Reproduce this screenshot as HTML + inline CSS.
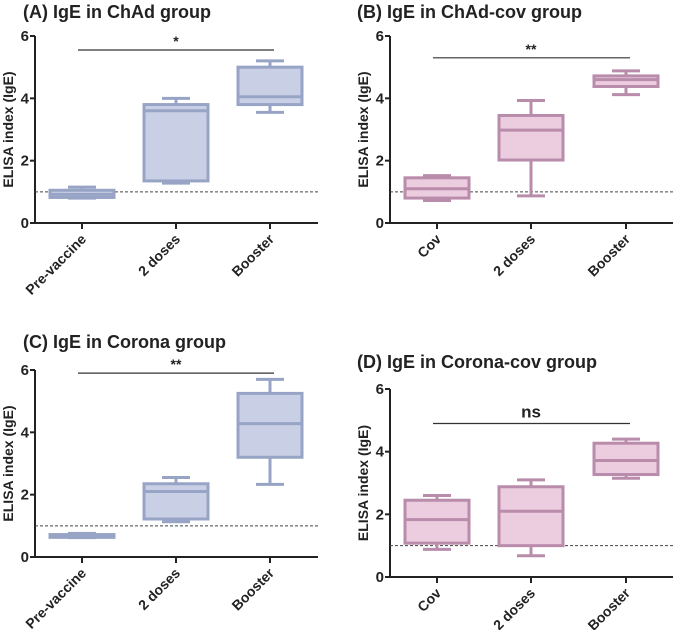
<!DOCTYPE html>
<html><head><meta charset="utf-8"><style>
body{margin:0;background:#fff;}
svg text{font-family:"Liberation Sans",Arial,sans-serif;font-weight:bold;fill:#222;}
</style></head><body>
<svg id="fig" width="685" height="630" xmlns="http://www.w3.org/2000/svg"></svg>
<script>
const catsA = ["Pre-vaccine","2 doses","Booster"];
const catsB = ["Cov","2 doses","Booster"];
// [min, q1, median, q3, max]
const boxesA = [[0.8,0.82,0.92,1.05,1.15],[1.28,1.35,3.6,3.8,4.0],[3.55,3.8,4.05,5.0,5.2]];
const boxesB = [[0.72,0.8,1.1,1.45,1.52],[0.87,2.02,2.98,3.45,3.93],[4.12,4.38,4.6,4.72,4.88]];
const boxesC = [[0.62,0.63,0.67,0.72,0.76],[1.13,1.22,2.1,2.35,2.55],[2.33,3.2,4.28,5.25,5.7]];
const boxesD = [[0.88,1.08,1.83,2.45,2.6],[0.68,1.0,2.1,2.88,3.1],[3.15,3.27,3.72,4.27,4.4]];
const sigA = 5.55, sigB = 5.3, sigC = 5.9, sigD = 4.9;
const sigLabels = ["*","**","**","ns"];
const yTicks = [0,2,4,6];
const refLine = 1;

const svg = document.getElementById('fig');
const NS = "http://www.w3.org/2000/svg";
function mk(tag, attrs, parent){const e=document.createElementNS(NS,tag);for(const k in attrs)e.setAttribute(k,attrs[k]);(parent||svg).appendChild(e);return e;}

const panels = [
 {id:"a",title:"(A) IgE in ChAd group",tx:23,ty:18,ax:35,y0:223,y6:36,xr:318,centers:[82,176,270],cats:catsA,boxes:boxesA,sig:sigA,lab:sigLabels[0],fill:"#c9d0e6",stroke:"#98a4c5"},
 {id:"b",title:"(B) IgE in ChAd-cov group",tx:357,ty:18,ax:390,y0:223,y6:36,xr:673,centers:[437,531,626],cats:catsB,boxes:boxesB,sig:sigB,lab:sigLabels[1],fill:"#eccde0",stroke:"#b98cab"},
 {id:"c",title:"(C) IgE in Corona group",tx:23,ty:348,ax:35,y0:557,y6:370,xr:318,centers:[82,176,270],cats:catsA,boxes:boxesC,sig:sigC,lab:sigLabels[2],fill:"#c9d0e6",stroke:"#98a4c5"},
 {id:"d",title:"(D) IgE in Corona-cov group",tx:357,ty:368,ax:390,y0:577,y6:389,xr:673,centers:[437,531,626],cats:catsB,boxes:boxesD,sig:sigD,lab:sigLabels[3],fill:"#eccde0",stroke:"#b98cab"}
];

panels.forEach(p=>{
  const g = mk('g',{});
  
  
  const y = v => p.y0 - (p.y0-p.y6)*v/6;
  const t = mk('text',{x:p.tx,y:p.ty,'font-size':18},g); t.textContent=p.title;
   
  const ya = mk('line',{x1:p.ax,y1:p.y6,x2:p.ax,y2:p.y0,stroke:'#222','stroke-width':2},g);
   
  const xa = mk('line',{x1:p.ax,y1:p.y0,x2:p.xr,y2:p.y0,stroke:'#222','stroke-width':2},g);
   
  yTicks.forEach(v=>{
    mk('line',{x1:p.ax-5,y1:y(v),x2:p.ax,y2:y(v),stroke:'#222','stroke-width':2},g);
    const tl = mk('text',{x:p.ax-6,y:y(v)+5,'font-size':15,'text-anchor':'end'},g); tl.textContent=v;
     
  });
  const yt = mk('text',{x:0,y:0,'font-size':14,'text-anchor':'middle',transform:`translate(${p.ax-22},${(p.y0+p.y6)/2}) rotate(-90)`},g);
  yt.textContent='ELISA index (IgE)';
   
  const rl = mk('line',{x1:p.ax,y1:y(refLine),x2:p.xr,y2:y(refLine),stroke:'#444','stroke-width':1,'stroke-dasharray':'3,2'},g);
   
  const bw = 64;
  p.boxes.forEach((b,i)=>{
    const cx = p.centers[i];
    mk('line',{x1:cx,y1:p.y0,x2:cx,y2:p.y0+6,stroke:'#222','stroke-width':2},g);
    const bg = mk('g',{stroke:p.stroke,'stroke-width':3,fill:p.fill},g);
     
    mk('line',{x1:cx,y1:y(b[4]),x2:cx,y2:y(b[3])},bg);
    mk('line',{x1:cx,y1:y(b[0]),x2:cx,y2:y(b[1])},bg);
    mk('line',{x1:cx-14,y1:y(b[4]),x2:cx+14,y2:y(b[4])},bg);
    mk('line',{x1:cx-14,y1:y(b[0]),x2:cx+14,y2:y(b[0])},bg);
    mk('rect',{x:cx-bw/2,y:y(b[3]),width:bw,height:Math.max(1,y(b[1])-y(b[3]))},bg);
    mk('line',{x1:cx-bw/2,y1:y(b[2]),x2:cx+bw/2,y2:y(b[2])},bg);
    const cl = mk('text',{x:0,y:0,'font-size':14,'text-anchor':'end',transform:`translate(${cx+5},${p.y0+17}) rotate(-45)`},g);
    cl.textContent=p.cats[i];
     
  });
  const sl = mk('line',{x1:p.centers[0]-4,y1:y(p.sig),x2:p.centers[2]+4,y2:y(p.sig),stroke:'#333','stroke-width':1.2},g);
   
  const st = mk('text',{x:p.centers[1],y:y(p.sig)-(p.lab==='ns'?6:4),'font-size':p.lab==='ns'?17:14,'text-anchor':'middle','font-weight':p.lab==='ns'?'normal':'bold'},g);
  st.textContent=p.lab;
   
});
</script>
</body></html>
